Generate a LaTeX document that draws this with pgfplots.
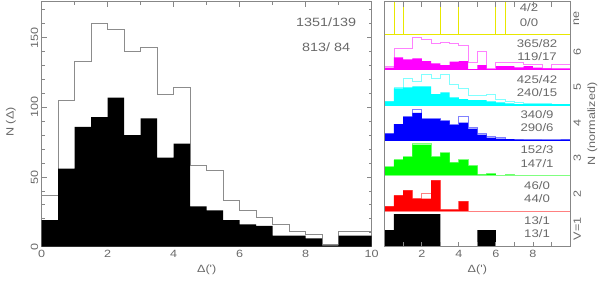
\documentclass[border=0pt]{standalone}
\usepackage{pgfplots}
\pgfplotsset{compat=1.18}
\usepackage{fontspec}
\setmainfont{Liberation Sans}
\newfontfamily\hf{Liberation Sans}[FakeStretch=1.2]
\newcommand\tickfont{\hf\fontsize{10.5}{12}\selectfont}
\newcommand\panfont{\hf\fontsize{11}{12}\selectfont}
\newcommand\bigtxt{\hf\fontsize{12}{14}\selectfont}
\definecolor{axgray}{RGB}{135,135,135}
\definecolor{txtgray}{RGB}{105,105,105}
\definecolor{olgray}{RGB}{140,140,140}
\definecolor{yel}{RGB}{232,232,0}
\definecolor{magF}{RGB}{255,0,255}
\definecolor{magO}{RGB}{255,128,255}
\definecolor{cyaF}{RGB}{0,255,255}
\definecolor{cyaO}{RGB}{128,255,255}
\definecolor{bluF}{RGB}{0,0,255}
\definecolor{bluO}{RGB}{128,128,255}
\definecolor{grnF}{RGB}{0,255,0}
\definecolor{grnO}{RGB}{128,255,128}
\definecolor{redF}{RGB}{255,0,0}
\definecolor{redO}{RGB}{255,128,128}
\pgfplotsset{
  panel/.style={scale only axis, width=185.3pt, height=35.4pt, xmin=0, xmax=10, ymin=0, ymax=106.2, anchor=south west, hide axis},
  outl/.style={const plot mark left, draw=#1, line width=0.8pt, mark=none},
  filld/.style={const plot mark left, fill=#1, draw=none, mark=none},
}
\begin{document}
\begin{tikzpicture}
\useasboundingbox (0pt,-285pt) rectangle (598pt,0pt);
% ---------------- left panel ----------------
\begin{axis}[
  scale only axis, width=330pt, height=245pt,
  at={(41.7pt,-246.7pt)}, anchor=south west,
  xmin=0, xmax=10, ymin=0, ymax=175.8,
  axis line style={axgray, line width=0.8pt},
  every tick/.style={axgray, line width=0.8pt},
  tick align=inside,
  major tick length=5pt, minor tick length=3pt,
  xtick={0,2,4,6,8,10}, minor xtick={1,3,5,7,9},
  ytick={0,50,100,150}, minor ytick={10,20,...,170},
  /pgf/number format/assume math mode=true,
  ticklabel style={font=\tickfont, text=txtgray},
  yticklabel style={rotate=90, anchor=south},
  xlabel={Δ(')}, xlabel style={font=\tickfont, text=txtgray},
]
\addplot[outl=olgray] coordinates {(0,0)(0,37)(0.5,105)(1,133)(1.5,160)(2,156)(2.5,140)(3,143)(3.5,109)(4,114)(4.5,58)(5,55)(5.5,33)(6,26)(6.5,21)(7,16)(7.5,11)(8,9)(8.5,2)(9,11)(9.5,11)(10,0)};
\addplot[filld=black] coordinates {(0,0)(0,19)(0.5,56)(1,86)(1.5,93)(2,107)(2.5,80)(3,92)(3.5,64)(4,74)(4.5,29)(5,26)(5.5,19)(6,16)(6.5,15)(7,8)(7.5,8)(8,6)(8.5,1)(9,8)(9.5,8)(10,0)};
\node[font=\bigtxt, text=txtgray] at (axis cs:8.62,161) {1351/139};
\node[font=\bigtxt, text=txtgray] at (axis cs:8.62,143) {813/\ 84};
\end{axis}
\node[rotate=90, font=\tickfont, text=txtgray] at (11pt,-122pt) {N (Δ)};
% ---------------- right panels ----------------
% ne
\begin{axis}[panel, height=32.6pt, ymax=97.8, at={(384.7pt,-34.3pt)}]
\addplot[outl=yel] coordinates {(0,0)(0,0)(0.5,300)(1,0)(1.5,0)(2,0)(2.5,0)(3,300)(3.5,300)(4,0)(4.5,0)(5,0)(5.5,0)(6,300)(6.5,0)(7,0)(7.5,0)(8,0)(8.5,0)(9,0)(9.5,0)(10,0)};
\node[font=\panfont, text=txtgray] at (axis cs:7.79,80) {4/2};
\node[font=\panfont, text=txtgray] at (axis cs:7.79,36) {0/0};
\end{axis}
% 6
\begin{axis}[panel, at={(384.7pt,-69.7pt)}]
\addplot[outl=magO] coordinates {(0,0)(0,10)(0.5,65)(1,65)(1.5,97)(2,90)(2.5,78)(3,83)(3.5,80)(4,73)(4.5,22)(5,56)(5.5,3)(6,22)(6.5,22)(7,22)(7.5,16)(8,16)(8.5,4)(9,16)(9.5,16)(10,0)};
\addplot[filld=magF] coordinates {(0,0)(0,6)(0.5,37)(1,31)(1.5,34)(2,26)(2.5,19)(3,14)(3.5,24)(4,26)(4.5,2)(5,14)(5.5,0)(6,11)(6.5,11)(7,7)(7.5,11)(8,6)(8.5,4)(9,4)(9.5,4)(10,0)};
\node[font=\panfont, text=txtgray] at (axis cs:8.22,78) {365/82};
\node[font=\panfont, text=txtgray] at (axis cs:8.22,38) {119/17};
\end{axis}
% 5
\begin{axis}[panel, at={(384.7pt,-105.1pt)}]
\addplot[outl=cyaO] coordinates {(0,0)(0,11)(0.5,53)(1,80)(1.5,70)(2,91)(2.5,80)(3,91)(3.5,63)(4,50)(4.5,28)(5,28)(5.5,33)(6,16)(6.5,11)(7,8)(7.5,5)(8,5)(8.5,5)(9,3)(9.5,3)(10,0)};
\addplot[filld=cyaF] coordinates {(0,0)(0,11)(0.5,50)(1,53)(1.5,56)(2,56)(2.5,33)(3,38)(3.5,23)(4,18)(4.5,15)(5,15)(5.5,11)(6,8)(6.5,5)(7,3)(7.5,3)(8,3)(8.5,3)(9,3)(9.5,3)(10,0)};
\node[font=\panfont, text=txtgray] at (axis cs:8.22,78) {425/42};
\node[font=\panfont, text=txtgray] at (axis cs:8.22,38) {240/15};
\end{axis}
% 4
\begin{axis}[panel, at={(384.7pt,-140.5pt)}]
\addplot[outl=bluO] coordinates {(0,0)(0,21)(0.5,49)(1,71)(1.5,94)(2,66)(2.5,66)(3,61)(3.5,48)(4,71)(4.5,38)(5,21)(5.5,11)(6,8)(6.5,4)(7,3)(7.5,2)(8,2)(8.5,2)(9,2)(9.5,3)(10,0)};
\addplot[filld=bluF] coordinates {(0,0)(0,21)(0.5,49)(1,71)(1.5,83)(2,64)(2.5,64)(3,58)(3.5,46)(4,54)(4.5,36)(5,18)(5.5,9)(6,6)(6.5,4)(7,3)(7.5,2)(8,2)(8.5,1)(9,1)(9.5,3)(10,0)};
\node[font=\panfont, text=txtgray] at (axis cs:8.22,78) {340/9};
\node[font=\panfont, text=txtgray] at (axis cs:8.22,38) {290/6};
\end{axis}
% 3
\begin{axis}[panel, at={(384.7pt,-175.9pt)}]
\addplot[outl=grnO] coordinates {(0,0)(0,28)(0.5,50)(1,58)(1.5,97)(2,97)(2.5,59)(3,70)(3.5,42)(4,49)(4.5,32)(5,6)(5.5,8)(6,2)(6.5,4)(7,2)(7.5,0)(8,0)(8.5,3)(9,0)(9.5,0)(10,0)};
\addplot[filld=grnF] coordinates {(0,0)(0,26)(0.5,48)(1,56)(1.5,94)(2,94)(2.5,57)(3,68)(3.5,40)(4,47)(4.5,30)(5,4)(5.5,6)(6,1)(6.5,3)(7,1)(7.5,0)(8,0)(8.5,0)(9,0)(9.5,0)(10,0)};
\node[font=\panfont, text=txtgray] at (axis cs:8.22,78) {152/3};
\node[font=\panfont, text=txtgray] at (axis cs:8.22,38) {147/1};
\end{axis}
% 2
\begin{axis}[panel, at={(384.7pt,-211.3pt)}]
\addplot[outl=redO] coordinates {(0,0)(0,15)(0.5,48)(1,63)(1.5,38)(2,53)(2.5,93)(3,5)(3.5,5)(4,30)(4.5,0)(5,0)(5.5,0)(6,0)(6.5,0)(7,0)(7.5,0)(8,0)(8.5,0)(9,0)(9.5,0)(10,0)};
\addplot[filld=redF] coordinates {(0,0)(0,15)(0.5,48)(1,63)(1.5,38)(2,38)(2.5,93)(3,5)(3.5,5)(4,30)(4.5,0)(5,0)(5.5,0)(6,0)(6.5,0)(7,0)(7.5,0)(8,0)(8.5,0)(9,0)(9.5,0)(10,0)};
\node[font=\panfont, text=txtgray] at (axis cs:8.22,78) {46/0};
\node[font=\panfont, text=txtgray] at (axis cs:8.22,38) {44/0};
\end{axis}
% V=1
\begin{axis}[panel, at={(384.7pt,-246.7pt)}]
\addplot[filld=black] coordinates {(0,0)(0,50)(0.5,98)(1,98)(1.5,98)(2,98)(2.5,98)(3,0)(3.5,0)(4,0)(4.5,0)(5,50)(5.5,50)(6,0)(6.5,0)(7,0)(7.5,0)(8,0)(8.5,0)(9,0)(9.5,0)(10,0)};
\node[font=\panfont, text=txtgray] at (axis cs:8.22,78) {13/1};
\node[font=\panfont, text=txtgray] at (axis cs:8.22,38) {13/1};
\end{axis}
% baselines
\draw[yel, line width=0.9pt] (384.7pt,-34.3pt) -- (570pt,-34.3pt);
\draw[magF, line width=1.2pt] (384.7pt,-69.7pt) -- (570pt,-69.7pt);
\draw[cyaF, line width=0.9pt] (384.7pt,-105.1pt) -- (570pt,-105.1pt);
\draw[bluF, line width=0.9pt] (384.7pt,-140.5pt) -- (570pt,-140.5pt);
\draw[grnO, line width=0.9pt] (384.7pt,-175.9pt) -- (570pt,-175.9pt);
\draw[redO, line width=0.9pt] (384.7pt,-211.3pt) -- (570pt,-211.3pt);
% frame
\begin{axis}[
  scale only axis, width=185.3pt, height=245pt,
  at={(384.7pt,-246.7pt)}, anchor=south west,
  xmin=0, xmax=10, ymin=0, ymax=245,
  axis line style={axgray, line width=0.8pt},
  every tick/.style={axgray, line width=0.8pt},
  tick align=inside, major tick length=5pt,
  xtick={0,1,...,10}, xticklabels={,,2,,4,,6,,8,,},
  ytick={17.7,53.1,88.5,123.9,159.3,194.7,228.7},
  yticklabels={V=1,2,3,4,5,6,ne},
  yticklabel pos=right,
  ytick style={draw=none},
  ticklabel style={font=\tickfont, text=txtgray},
  yticklabel style={rotate=90, anchor=north},
  xlabel={Δ(')}, xlabel style={font=\tickfont, text=txtgray},
]
\end{axis}
\node[rotate=90, font=\tickfont, text=txtgray] at (592.5pt,-124pt) {N (normalized)};
\end{tikzpicture}
\end{document}
